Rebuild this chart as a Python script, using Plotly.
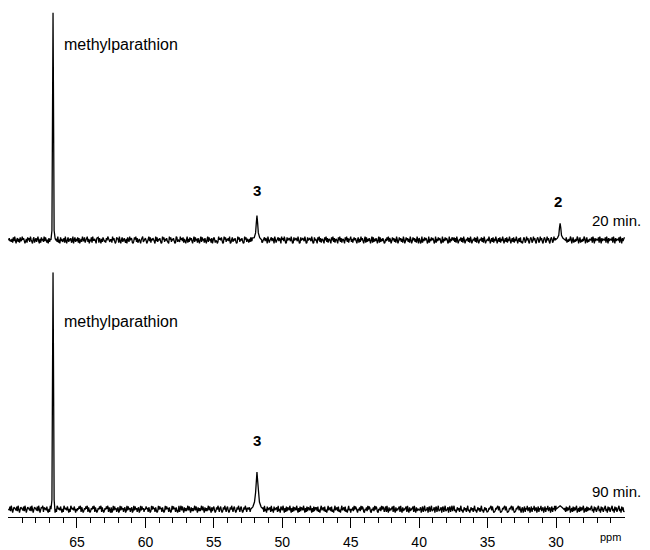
import numpy as np
import plotly.graph_objects as go

# ---- data ----
ppm_start, ppm_stop, ppm_step = 70.0, 25.0, 0.05

# baseline noise texture, one digit per sample (0-9, centred on 4.5)
noise_top = (
    "47352618394057261834957203618472953068147259306184"
    "62938415072651980374629150836247193058264713905826"
    "38170462953814792605381944620778174062853417496225"
    "51947302866193058247316085294761038592714630589247"
    "74025938164751093826473019582647310958264730198254"
    "29573816405916284730592846173059284617305928461703"
    "86143029574830195826473901582647301958264730195826"
    "41628375092146837509214683750921468375092146837509"
    "57392018467539201846753920184675392018467539201846"
    "30849271563084927156308492715630849271563084927156"
    "92615847305816294730591826374059182637405918263740"
    "16384927503847261950384726195038472619503847261950"
    "75029163847502916384750291638475029163847502916384"
    "48271950364827195036482719503648271950364827195036"
    "63950472816395047281639504728163950472816395047281"
    "20586139472058613947205861394720586139472058613947"
    "97304815263970481526397048152639704815263970481526"
    "54819207365481920736548192073654819207365481920736"
    "81460293758146029375814602937581460293758146029375"
)
noise_bot = (
    "53829104765382910476538291047653829104765382910476"
    "91746382051974638205197463820519746382051974638205"
    "26485917302648591730264859173026485917302648591730"
    "70293846157029384615702938461570293846157029384615"
    "48561730294856173029485617302948561730294856173029"
    "15938407262593840726259384072625938407262593840726"
    "83027495168302749516830274951683027495168302749516"
    "64719250836471925083647192508364719250836471925083"
    "39506182743950618274395061827439506182743950618274"
    "72814069357281406935728140693572814069357281406935"
    "05372948610537294861053729486105372948610537294861"
    "68193072546819307254681930725468193072546819307254"
    "34706815923470681592347068159234706815923470681592"
    "89240573618924057361892405736189240573618924057361"
    "12657938401265793840126579384012657938401265793840"
    "57038164925703816492570381649257038164925703816492"
    "90461827359046182735904618273590461827359046182735"
    "46925083714692508371469250837146925083714692508371"
    "23780496152378049615237804961523780496152378049615"
)

# peaks: centre (ppm), profile offsets (ppm), profile intensities
top_peaks = [
    (66.75, [-0.15, -0.08, -0.05, -0.02, 0, 0.02, 0.05, 0.08, 0.15],
            [0, 4, 40, 75, 95.9, 75, 40, 4, 0]),
    (51.85, [-0.35, -0.2, -0.1, -0.05, 0, 0.05, 0.1, 0.2, 0.35],
            [0, 1, 3, 7, 10.3, 7, 3, 1, 0]),
    (29.70, [-0.35, -0.2, -0.1, -0.05, 0, 0.05, 0.1, 0.2, 0.35],
            [0, 0.8, 2, 5, 7, 5, 2, 0.8, 0]),
]
bot_peaks = [
    (66.75, [-0.15, -0.08, -0.05, -0.02, 0, 0.02, 0.05, 0.08, 0.15],
            [0, 4, 42, 78, 100, 78, 42, 4, 0]),
    (51.85, [-0.45, -0.3, -0.18, -0.1, -0.05, 0, 0.05, 0.1, 0.18, 0.3, 0.45],
            [0, 1, 3, 7, 12, 15.7, 12, 7, 3, 1, 0]),
    (29.70, [-0.3, -0.15, 0, 0.15, 0.3],
            [0, 0.7, 1.4, 0.7, 0]),
]

major_ticks = [65, 60, 55, 50, 45, 40, 35, 30]
minor_ticks = [v for v in range(69, 25, -1) if v % 5 != 0]


def build(noise, peaks):
    grid = np.round(np.arange(ppm_start, ppm_stop - 0.02, -ppm_step), 3)
    nvals = np.array([(int(c) - 4.5) * 0.32 for c in noise[:len(grid)]])
    keep = np.ones(len(grid), bool)
    xs, ys = [], []
    for c, offs, ints in peaks:
        keep &= np.abs(grid - c) > max(abs(o) for o in offs)
        xs += [c + o for o in offs]
        ys += list(ints)
    xs = np.concatenate([grid[keep], xs])
    ys = np.concatenate([nvals[keep], ys])
    order = np.argsort(-xs)
    return xs[order], ys[order]


xt, yt = build(noise_top, top_peaks)
xb, yb = build(noise_bot, bot_peaks)

fig = go.Figure()
fig.add_trace(go.Scatter(x=xt, y=yt, mode="lines", xaxis="x", yaxis="y2",
                         line=dict(color="black", width=1.3), hoverinfo="skip"))
fig.add_trace(go.Scatter(x=xb, y=yb, mode="lines", xaxis="x", yaxis="y",
                         line=dict(color="black", width=1.3), hoverinfo="skip"))

font = "Liberation Sans, Arial, sans-serif"
ann = []
def add(text, x, y, yref, size=16, bold=False, xanchor="left"):
    ann.append(dict(text=f"<b>{text}</b>" if bold else text, x=x, y=y, xref="x",
                    yref=yref, showarrow=False, xanchor=xanchor, yanchor="middle",
                    font=dict(family=font, size=size, color="black")))

add("methylparathion", 66.1, 82.6, "y2")
add("3", 51.85, 20.7, "y2", size=15, bold=True, xanchor="center")
add("2", 29.85, 16.1, "y2", size=15, bold=True, xanchor="center")
add("20 min.", 27.55, 8.3, "y2", size=15)
add("methylparathion", 66.1, 79.3, "y")
add("3", 51.85, 28.9, "y", size=15, bold=True, xanchor="center")
add("90 min.", 27.5, 7.4, "y", size=15)
ann.append(dict(text="ppm", x=26.05, y=-0.0385, xref="x", yref="paper", showarrow=False,
                xanchor="center", yanchor="middle", font=dict(family=font, size=11, color="black")))

# page body adds an 8 px offset; plot area sized so it lands where the reference has it
fig.update_layout(
    width=650, height=542,
    margin=dict(l=0, r=33, t=0, b=22),
    paper_bgcolor="white", plot_bgcolor="white",
    showlegend=False,
    annotations=ann,
    xaxis=dict(range=[70.04, 24.96], anchor="y", showgrid=False, zeroline=False,
               showline=True, linecolor="black", linewidth=1,
               tickmode="array", tickvals=major_ticks, ticktext=[str(v) for v in major_ticks],
               ticks="outside", ticklen=10, tickcolor="black", tickwidth=1,
               ticklabelstandoff=2,
               tickfont=dict(family=font, size=14, color="black"),
               minor=dict(tickmode="array", tickvals=minor_ticks, ticks="outside",
                          ticklen=5, tickcolor="black", tickwidth=1, showgrid=False)),
    yaxis=dict(domain=[0, 0.4808], range=[-3.306, 100], visible=False),
    yaxis2=dict(domain=[0.5288, 1.0], range=[-3.306, 97.93], visible=False, anchor="x"),
)

fig.write_html("out.html")
